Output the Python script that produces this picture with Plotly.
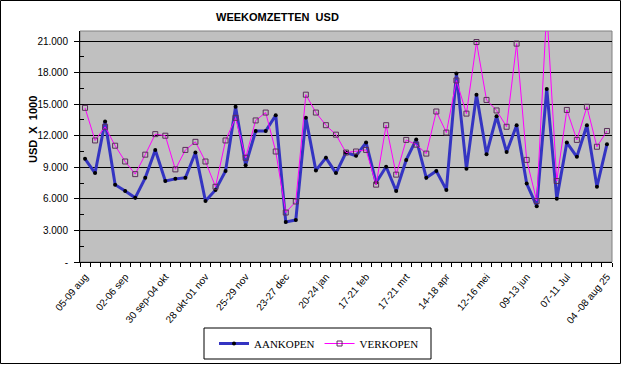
import plotly.graph_objects as go

WEEKS = [
    "05-09 aug", "12-16 aug", "19-23 aug", "26-30 aug", "02-06 sep", "09-13 sep",
    "16-20 sep", "23-27 sep", "30 sep-04 okt", "07-11 okt", "14-18 okt", "21-25 okt",
    "28 okt-01 nov", "04-08 nov", "11-15 nov", "18-22 nov", "25-29 nov", "02-06 dec",
    "09-13 dec", "16-20 dec", "23-27 dec", "30 dec-03 jan", "06-10 jan", "13-17 jan",
    "20-24 jan", "27-31 jan", "03-07 feb", "10-14 feb", "17-21 feb", "24-28 feb",
    "03-07 mrt", "10-14 mrt", "17-21 mrt", "24-28 mrt", "31 mrt-04 apr", "07-11 apr",
    "14-18 apr", "21-25 apr", "28 apr-02 mei", "05-09 mei", "12-16 mei", "19-23 mei",
    "26-30 mei", "02-06 jun", "09-13 jun", "16-20 jun", "23-27 jun", "30 jun-04 jul",
    "07-11 Jul", "14-18 jul", "21-25 jul", "28 jul-01 aug", "04 -08 aug 25",
]

AANKOPEN = [9800, 8450, 13350, 7350, 6750, 6100, 8000, 10650, 7700, 7900, 8000, 10400,
            5800, 6850, 8650, 14750, 9200, 12450, 12450, 13950, 3800, 4000, 13700, 8700,
            9900, 8450, 10400, 10100, 11350, 7550, 9050, 6750, 9700, 11650, 8000, 8650,
            6850, 17900, 8850, 15900, 10250, 13850, 10450, 13000, 7450, 5300, 16450, 6000,
            11350, 10000, 13000, 7150, 11200]

VERKOPEN = [14650, 11550, 12850, 11050, 9550, 8350, 10200, 12150, 12000, 8800, 10650, 11420,
            9550, 7150, 11550, 13700, 9900, 13450, 14200, 10500, 4700, 5750, 15900, 14200,
            13000, 12100, 10400, 10500, 10650, 7350, 13000, 8300, 11600, 11150, 10300, 14300,
            12300, 17250, 14100, 20900, 15400, 14400, 12850, 20750, 9700, 5800, 24000, 7700,
            14450, 11600, 14750, 10950, 12450]

Y_TICKS = [0, 3000, 6000, 9000, 12000, 15000, 18000, 21000]
Y_TICK_LABELS = ["-", "3.000", "6.000", "9.000", "12.000", "15.000", "18.000", "21.000"]
X_LABEL_STEP = 4

W, H = 622, 368
L, R, T, B = 80, 10, 31, 106
PW, PH = W - L - R, H - T - B


def px_x(px):
    return (px - L) / PW


def px_y(py):
    return (H - B - py) / PH


idx = list(range(len(WEEKS)))
tick_idx = idx[::X_LABEL_STEP]

fig = go.Figure()
fig.add_trace(go.Scatter(
    x=idx, y=AANKOPEN, name="AANKOPEN", mode="lines+markers", text=WEEKS,
    line=dict(color="#3434C2", width=3),
    marker=dict(symbol="circle", size=4, color="#000000"),
))
fig.add_trace(go.Scatter(
    x=idx, y=VERKOPEN, name="VERKOPEN", mode="lines+markers", text=WEEKS,
    line=dict(color="#FF00FF", width=1),
    marker=dict(symbol="square-open", size=5, color="#5A2F5A", line=dict(width=1)),
))

fig.update_layout(
    width=W, height=H,
    margin=dict(l=L, r=R, t=T, b=B, pad=0, autoexpand=False),
    paper_bgcolor="#FFFFFF",
    plot_bgcolor="#C0C0C0",
    font=dict(family="Arial, Liberation Sans", size=10, color="#000000"),
    showlegend=True,
    legend=dict(
        orientation="h", x=px_x(214), xanchor="left", y=px_y(329), yanchor="top",
        font=dict(family="Times New Roman, Liberation Serif", size=11, color="#000000"),
        bgcolor="rgba(0,0,0,0)", borderwidth=0, itemwidth=30,
    ),
    xaxis=dict(
        range=[-0.5, len(WEEKS) - 0.5], automargin=False,
        tickmode="array", tickvals=tick_idx, ticktext=[WEEKS[i] for i in tick_idx],
        tickangle=-50, ticks="outside", ticklen=4, tickcolor="rgba(0,0,0,0)",
        showgrid=False, zeroline=False,
        showline=True, linecolor="#000000", linewidth=1,
        minor=dict(tickmode="linear", tick0=-0.5, dtick=1, ticks="outside",
                   ticklen=4, tickcolor="#000000", showgrid=False),
        tickfont=dict(size=10),
    ),
    yaxis=dict(
        range=[0, 21000 * PH / (H - B - 41)], automargin=False,
        tickmode="array", tickvals=Y_TICKS, ticktext=Y_TICK_LABELS,
        ticks="outside", ticklen=5, tickcolor="#000000", ticklabelstandoff=4,
        showgrid=True, gridcolor="#000000", gridwidth=1, zeroline=False,
        showline=True, linecolor="#000000", linewidth=1,
        minor=dict(tickmode="linear", tick0=0, dtick=1500, ticks="inside",
                   ticklen=4, tickcolor="#000000", showgrid=False),
        tickfont=dict(size=10),
    ),
    shapes=[
        dict(type="rect", xref="paper", yref="paper", x0=0, x1=1, y0=0, y1=1,
             line=dict(color="#808080", width=1), layer="below"),
        dict(type="rect", xref="paper", yref="paper",
             x0=px_x(204), x1=px_x(431), y0=px_y(328), y1=px_y(359),
             line=dict(color="#000000", width=1)),
        dict(type="rect", xref="paper", yref="paper",
             x0=px_x(0.5), x1=px_x(620.5), y0=px_y(0.5), y1=px_y(363.5),
             line=dict(color="#000000", width=1)),
    ],
    annotations=[
        dict(text="<b>WEEKOMZETTEN  USD</b>", xref="paper", yref="paper",
             x=px_x(277), y=px_y(17), xanchor="center", yanchor="middle",
             showarrow=False, font=dict(size=11, family="Arial, Liberation Sans")),
        dict(text="<b>USD  X  1000</b>", xref="paper", yref="paper",
             x=px_x(33), y=px_y(130), xanchor="center", yanchor="middle",
             textangle=-90, showarrow=False, font=dict(size=11, family="Arial, Liberation Sans")),
    ],
)

fig.write_html(
    "out.html",
    config={"displayModeBar": False},
    post_script="document.body.style.margin='0';document.body.style.padding='0';"
                "document.body.style.overflow='hidden';",
)
